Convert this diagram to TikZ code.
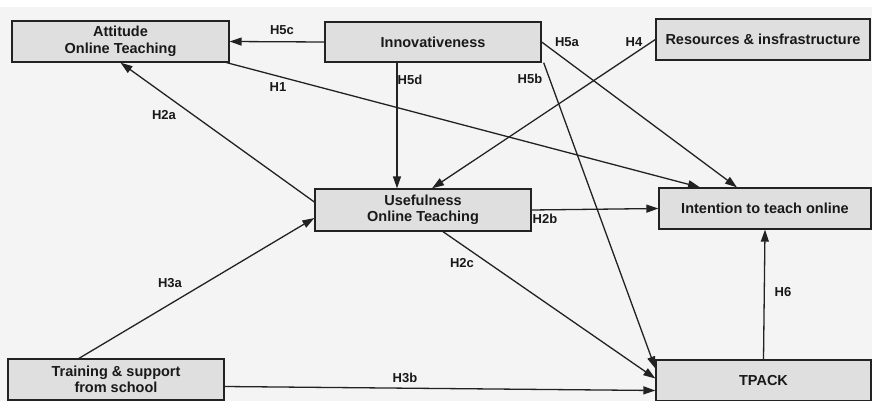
\documentclass[tikz,border=0pt]{standalone}
\usepackage{fontspec}
\setmainfont{Liberation Sans}
\usetikzlibrary{arrows.meta}
\definecolor{bgc}{HTML}{F4F4F4}
\definecolor{boxc}{HTML}{DFDFDF}
\definecolor{linec}{HTML}{222222}
\tikzset{
  box/.style={draw=linec, line width=1.3pt, fill=boxc, inner sep=0pt, align=center,
    font=\fontsize{14.5}{16.5}\selectfont\bfseries, text=black!90},
  lbl/.style={inner sep=0pt, font=\fontsize{13}{15}\selectfont\bfseries, text=black!90},
  arr/.style={draw=linec, line width=1.3pt, -{Triangle[length=12pt,width=8pt]}},
  ln/.style={draw=linec, line width=1.3pt}
}
\begin{document}
\begin{tikzpicture}[x=1pt,y=-1pt]
\useasboundingbox (0,0) rectangle (872,401);
\fill[white] (0,0) rectangle (872,401);
\fill[bgc] (0,7) rectangle (872,401);
% boxes
\node[box, minimum width=217pt, minimum height=41pt] (att) at (120.5,41.5) {Attitude\\Online Teaching};
\node[box, minimum width=216pt, minimum height=40pt] (inn) at (433,42) {Innovativeness};
\node[box, minimum width=214pt, minimum height=41pt] (res) at (763,39.5) {Resources \& insfrastructure};
\node[box, minimum width=216pt, minimum height=42pt] (use) at (423,210) {Usefulness\\Online Teaching};
\node[box, minimum width=212pt, minimum height=41pt] (int) at (765,208.5) {Intention to teach online};
\node[box, minimum width=216pt, minimum height=41pt] (tra) at (116,379.5) {Training \& support\\from school};
\node[box, minimum width=215pt, minimum height=41pt] (tpk) at (763.5,380.5) {TPACK};
% connectors
\draw[arr] (inn.west) -- (att.east);
\draw[arr] ([xshift=-36pt]inn.south) -- ([xshift=-26pt]use.north);
\draw[arr] ([xshift=-3pt]att.south east) -- ([xshift=-65pt]int.north);
\draw[arr] ([yshift=8pt]use.west) -- (att.south);
\draw[arr] ([xshift=-37pt]tra.north) -- ([yshift=-8pt]use.west);
\draw[arr] (res.west) -- ([xshift=9pt]use.north);
\draw[arr] (inn.east) -- ([xshift=-28pt]int.north);
\draw[arr] ([xshift=2pt]inn.south east) -- ([yshift=12pt]tpk.west);
\draw[arr] ([xshift=20pt]use.south) -- ([yshift=2pt]tpk.west);
\draw[arr] ([yshift=-7pt]tra.east) -- ([yshift=-10pt]tpk.west);
\draw[arr] (use.east) -- (int.west);
\draw[arr] (tpk.north) -- (int.south);
% labels
\node[lbl] (l5c) at (282,30) {H5c};
\node[lbl] (l5d) at (410,80) {H5d};
\node[lbl] (l1) at (278,87) {H1};
\node[lbl] (l2a) at (164,115) {H2a};
\node[lbl] (l5a) at (567,42) {H5a};
\node[lbl] (l4) at (634,42) {H4};
\node[lbl] (l5b) at (530,79) {H5b};
\node[lbl] (l2b) at (545,219) {H2b};
\node[lbl] (l2c) at (462,263) {H2c};
\node[lbl] (l3a) at (170,283) {H3a};
\node[lbl] (l3b) at (405,378) {H3b};
\node[lbl] (l6) at (783,292) {H6};
\end{tikzpicture}
\end{document}
